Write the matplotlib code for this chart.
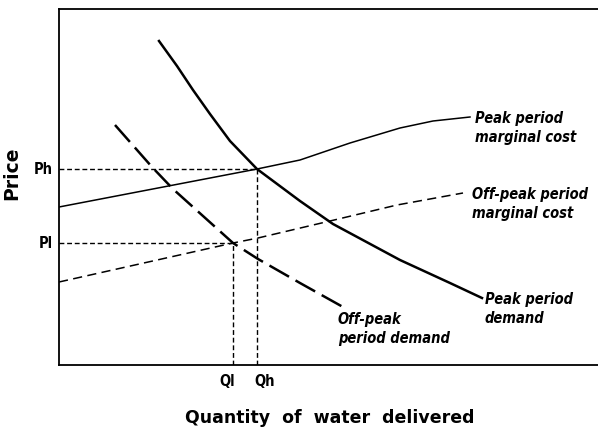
"""Peak / off-peak water pricing diagram (demand vs marginal cost)."""
import matplotlib
matplotlib.use('Agg')
import matplotlib.pyplot as plt

plt.rcParams['font.family'] = ['DejaVu Sans']

# curves (x = quantity, y = price, arbitrary units)
peak_dem_x = [100, 118, 134, 151, 171, 198, 241, 274, 341, 391, 423]
peak_dem_y = [324, 299, 275, 251, 224, 196, 164, 141, 105, 82, 67]
off_dem_x = [56, 93, 114, 144, 174, 199, 241, 284]
off_dem_y = [240, 198, 176, 149, 122, 106, 82, 58]
peak_mc_x = [0, 198, 241, 291, 341, 374, 411]
peak_mc_y = [158, 196, 205, 222, 237, 244, 248]
off_mc_x = [0, 174, 199, 271, 338, 404]
off_mc_y = [83, 122, 127, 144, 160, 172]

Ph, Pl = 196, 122
Qh, Ql = 198, 174

W, H = 598, 432
fig = plt.figure(figsize=(W / 100, H / 100), dpi=100)
ax = fig.add_axes([59 / W, (H - 365) / H, (W - 59) / W, (365 - 9) / H])
ax.set_xlim(0, 539)
ax.set_ylim(0, 356)
ax.set_xticks([]); ax.set_yticks([])
ax.spines['right'].set_visible(False)
for s in ('left', 'bottom', 'top'):
    ax.spines[s].set_linewidth(1.3)

k = 'black'
ax.plot(peak_dem_x, peak_dem_y, color=k, lw=1.8, solid_joinstyle='round')
ax.plot(off_dem_x, off_dem_y, color=k, lw=1.8, dashes=(9, 3))
ax.plot(peak_mc_x, peak_mc_y, color=k, lw=1.1, solid_joinstyle='round')
ax.plot(off_mc_x, off_mc_y, color=k, lw=1.1, dashes=(6, 3.5))

# guide lines
g = dict(color=k, lw=1.0, dashes=(3.5, 2))
ax.plot([0, Qh], [Ph, Ph], **g)
ax.plot([0, Ql], [Pl, Pl], **g)
ax.plot([Qh, Qh], [0, Ph], **g)
ax.plot([Ql, Ql], [0, Pl], **g)

lab = dict(fontsize=10.5, fontweight='bold', fontstyle='italic',
           fontstretch='condensed', ha='left', va='center', linespacing=1.3)
ax.text(416, 237, 'Peak period\nmarginal cost', **lab)
ax.text(413, 161, 'Off-peak period\nmarginal cost', **lab)
ax.text(426, 56, 'Peak period\ndemand', **lab)
ax.text(279, 36, 'Off-peak\nperiod demand', **lab)

tk = dict(fontsize=10.5, fontweight='bold', fontstretch='condensed')
ax.text(-6, Ph, 'Ph', ha='right', va='center', **tk)
ax.text(-6, Pl, 'Pl', ha='right', va='center', **tk)
ax.text(Ql - 6, -17, 'Ql', ha='center', va='center', **tk)
ax.text(Qh + 8, -17, 'Qh', ha='center', va='center', **tk)

ax.text(-47, 192, 'Price', rotation=90, ha='center', va='center',
        fontsize=13.5, fontweight='bold')
ax.text(271, -53, 'Quantity  of  water  delivered', ha='center', va='center',
        fontsize=12.5, fontweight='bold')

fig.savefig('out.png', dpi=100)
